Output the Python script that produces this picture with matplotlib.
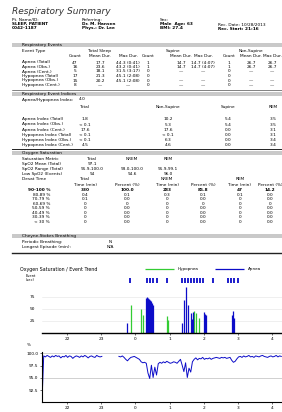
import numpy as np
import matplotlib
matplotlib.use("Agg")
import matplotlib.pyplot as plt
from matplotlib.patches import Rectangle
from matplotlib.lines import Line2D

W, H = 282, 412

# ---- report header ----
title = "Respiratory Summary"
info_cols = [
    ["Pt. Name/ID:", "SLEEP, PATIENT", "0042-1187"],
    ["Referring:", "Dr. M. Hansen", "Phys.: Dr. Lee"],
    ["Sex:", "Male  Age: 63", "BMI: 27.4"],
    ["Rec. Date: 10/28/2013", "Rec. Start: 21:16"],
]

# ---- respiratory events table ----
evt_groups = ["Total Sleep", "Supine", "Non-Supine"]
evt_cols = ["Count", "Mean Dur.", "Max Dur."]
evt_rows = ["Apnea (Total)", "Apnea (Obs.)", "Apnea (Cent.)",
            "Hypopnea (Total)", "Hypopnea (Obs.)", "Hypopnea (Cent.)"]
evt_total = [["47", "17.7", "44.3 (0:41)"],
             ["16", "23.6", "43.2 (0:41)"],
             ["5", "18.1", "31.5 (3:17)"],
             ["17", "21.3", "45.1 (2:08)"],
             ["15", "20.2", "45.1 (2:08)"],
             ["8", "\u2014", "\u2014"]]
evt_supine = [["1", "14.7", "14.7 (4:07)"],
              ["1", "14.7", "14.7 (4:07)"],
              ["0", "\u2014", "\u2014"],
              ["0", "", ""],
              ["0", "\u2014", "\u2014"],
              ["0", "\u2014", "\u2014"]]
evt_nonsup = [["1", "26.7", "26.7"],
              ["1", "26.7", "26.7"],
              ["0", "\u2014", "\u2014"],
              ["0", "", ""],
              ["0", "\u2014", "\u2014"],
              ["0", "\u2014", "\u2014"]]

# ---- event indices ----
ahi_value = "4.0"
idx_cols = ["Total", "Non-Supine", "Supine", "REM"]
idx_rows = ["Apnea Index (Total)", "Apnea Index (Obs.)", "Apnea Index (Cent.)",
            "Hypopnea Index (Total)", "Hypopnea Index (Obs.)", "Hypopnea Index (Cent.)"]
idx_vals = [["1.8", "10.2", "5.4", "3.5"],
            ["< 0.1", "5.3", "5.4", "3.5"],
            ["17.6", "17.6", "0.0", "3.1"],
            ["< 0.1", "< 0.1", "0.0", "3.1"],
            ["< 0.1", "6.3", "0.0", "3.4"],
            ["4.5", "4.6", "0.0", "3.4"]]

# ---- oxygen saturation ----
sat_cols = ["Total", "NREM", "REM"]
sat_rows = ["SpO2 Mean (Total)", "SpO2 Range (Total)", "Low SpO2 (Events)"]
sat_vals = [["97.1", "", ""],
            ["91.9-100.0", "93.0-100.0", "91.9-99.1"],
            ["94", "94.6", "96.0"]]
desat_groups = ["Total", "NREM", "REM"]
desat_sub = ["Time (min)", "Percent (%)"]
desat_bands = ["90-100 %", "80-89 %", "70-79 %", "60-69 %",
               "50-59 %", "40-49 %", "30-39 %", "< 30 %"]
desat_tot_min = ["330", "0.4", "0.1", "0", "0", "0", "0", "0"]
desat_tot_pct = ["100.0", "0.1", "0.0", "0", "0.0", "0.0", "0.0", "0.0"]
desat_nrem_min = ["283", "0.3", "0", "0", "0", "0", "0", "0"]
desat_nrem_pct = ["85.8", "0.1", "0.0", "0", "0.0", "0.0", "0.0", "0.0"]
desat_rem_min = ["47", "0.1", "0", "0", "0", "0", "0", "0"]
desat_rem_pct = ["14.2", "0.0", "0.0", "0", "0.0", "0.0", "0.0", "0.0"]

# ---- cheyne stokes ----
cs_rows = ["Periodic Breathing:", "Longest Episode (min):"]
cs_vals = ["N", "N/A"]

# ---- trend chart (clock hours, continuing past midnight) ----
chart_title = "Oxygen Saturation / Event Trend"
hour_ticks = [22, 23, 24, 25, 26, 27, 28]
hour_labels = ["22", "23", "0", "1", "2", "3", "4"]
t_start, t_end = 21.27, 28.29

hyp_times = [23.873, 24.166, 24.224, 24.927, 24.956, 25.717, 25.775, 25.863]
hyp_durs = [58, 50, 37, 35, 27, 46, 42, 31]
apn_times = [23.756, 24.312, 24.341, 24.371, 24.400, 24.429, 24.458, 24.488, 24.517,
             25.366, 25.424, 25.483, 25.541, 25.629, 25.658, 25.688,
             26.009, 26.039, 26.068, 26.829, 26.858, 26.888]
apn_durs = [21, 73, 75, 72, 70, 69, 66, 62, 58,
            20, 69, 96, 58, 42, 30, 44,
            44, 40, 37, 37, 46, 31]
mark_times = [23.84, 24.34, 24.43, 24.52, 24.63, 24.93, 25.37, 25.46, 25.54,
              25.63, 25.72, 25.81, 25.90, 25.99, 26.28, 26.72, 26.81, 26.90, 26.99]

spo2_step_h = 0.05
spo2 = [90.2,
        99.5, 99.3, 99.6, 99.4, 99.2, 99.5, 99.3, 99.6, 99.4, 99.5, 99.1, 99.4,
        99.3, 99.6, 99.2, 99.5, 99.4, 99.0, 99.3, 99.5, 99.4, 99.2, 99.5, 99.3,
        99.6, 99.4, 99.1, 99.4, 99.5, 99.3, 99.2, 99.6, 99.4, 99.3,
        99.4,
        np.nan, np.nan, np.nan, np.nan, np.nan, np.nan, np.nan, np.nan, np.nan,
        99.4, 99.3, 99.5, 99.2, 98.8, 98.5, 98.9, 99.2, 99.3, 99.4, 99.2, 99.0, 98.8,
        98.3, 98.1, 98.2, 98.0,
        96.0, 94.9, 97.6, 95.1, 97.2, 95.6, 97.9,
        98.2, 98.0, 98.3, 98.1, 98.4, 98.2, 98.0, 98.1, 98.3, 98.2, 98.0, 98.4,
        98.8, 97.6, 96.3, 98.1, 95.1, 97.0, 96.2, 98.3,
        98.8, 99.1, 98.7, 99.0, 98.9, 99.2, 98.8, 99.0, 98.9, 99.1, 98.8, 99.0,
        99.1, 99.2, 99.1, 99.0, 99.2, 99.1, 99.2, 99.0, 99.1, 99.2,
        98.6, 98.2, 98.4, 98.9,
        99.3, 99.4, 99.2, 99.5, 99.3, 99.4, 99.6, 99.3, 99.4, 99.2, 99.5, 99.4,
        99.3, 99.5, 99.6, 99.4, 99.3, 99.2, 99.4, 99.5, 99.3, 99.4, 99.6, 99.3,
        99.5, 99.4]
spo2_ticks = [92.5, 95.0, 97.5, 100.0]

GREEN = "#33cc33"
BLUE = "#0c0cc8"
FS = 3.1

fig = plt.figure(figsize=(W / 100, H / 100), dpi=100)


def fx(x):
    return x / W


def fy(y):
    return 1 - y / H


def txt(x, y, s, size=FS, ha="left", **kw):
    fig.text(fx(x), fy(y), s, fontsize=size, ha=ha, va="center", **kw)


def section(y, label):
    fig.add_artist(Rectangle((fx(12), fy(y + 2)), 1 - fx(12), 4 / H,
                             transform=fig.transFigure, color="#c9c9c9", lw=0))
    txt(22, y, label)


def hline(y, lw=0.6):
    fig.add_artist(Line2D([fx(12), 1], [fy(y), fy(y)], color="#222222", lw=lw))


# header
txt(12, 12, title, size=6.5, style="italic", color="#333333")
for cx, lines in zip([12, 82, 160, 218], info_cols):
    y0 = 20 if cx != 218 else 25
    for k, s in enumerate(lines):
        txt(cx, y0 + 4 * k, s, weight="bold" if k > 0 else "normal")

# respiratory events
section(45, "Respiratory Events")
txt(22, 51, "Event Type")
col_x = [75, 100, 128, 148, 181, 203, 229, 251, 272]
for g, gx in zip(evt_groups, [100, 173, 251]):
    txt(gx, 51, g, ha="center")
for k, cx in enumerate(col_x):
    txt(cx, 56, evt_cols[k % 3], ha="center")
row_y = [62.5, 67, 71.5, 76, 80.5, 85]
for r, ry in enumerate(row_y):
    txt(22, ry, evt_rows[r])
    vals = evt_total[r] + evt_supine[r] + evt_nonsup[r]
    for cx, v in zip(col_x, vals):
        txt(cx, ry, v, ha="center")
hline(90, 0.4)

# indices
section(94, "Respiratory Event Indices")
txt(22, 100, "Apnea/Hypopnea Index:")
txt(82, 99, ahi_value, ha="center")
idx_x = [85, 168, 228, 273]
for c, cx in zip(idx_cols, idx_x):
    txt(cx, 107, c, ha="center")
row_y = [119, 124.5, 130, 135, 140, 145]
for r, ry in enumerate(row_y):
    txt(22, ry, idx_rows[r])
    for cx, v in zip(idx_x, idx_vals[r]):
        txt(cx, ry, v, ha="center")
hline(148.5, 0.7)

# oxygen saturation
section(153, "Oxygen Saturation")
txt(22, 159, "Saturation Metric")
for c, cx in zip(sat_cols, [92, 132, 168]):
    txt(cx, 159, c, ha="center")
for r, ry in enumerate([164, 169, 174]):
    txt(22, ry, sat_rows[r])
    for cx, v in zip([92, 132, 168], sat_vals[r]):
        txt(cx, ry, v, ha="center")
txt(22, 179, "Desat Time")
for g, gx in zip(desat_groups, [85, 167, 240]):
    txt(gx, 179, g, ha="center")
dcol_x = [85, 127, 167, 203, 240, 270]
for k, cx in enumerate(dcol_x):
    txt(cx, 184.5, desat_sub[k % 2], ha="center")
cols = [desat_tot_min, desat_tot_pct, desat_nrem_min, desat_nrem_pct,
        desat_rem_min, desat_rem_pct]
for r, band in enumerate(desat_bands):
    ry = 190 + r * 4.57
    w = "bold" if r == 0 else "normal"
    txt(50, ry, band, ha="right", weight=w)
    for cx, col in zip(dcol_x, cols):
        txt(cx, ry, col[r], ha="center", weight=w)

# cheyne stokes
section(236, "Cheyne-Stokes Breathing")
for r, (lab, v) in enumerate(zip(cs_rows, cs_vals)):
    txt(22, 242 + 5 * r, lab)
    txt(110, 242 + 5 * r, v, ha="center")
hline(253, 1.0)

# ---- trend chart ----
txt(20, 269, chart_title, size=3.4)

ax_mk = fig.add_axes([fx(42), fy(283), 1 - fx(42), 5 / H])
ax_mk.eventplot(mark_times, colors=BLUE, lineoffsets=0.5, linelengths=1,
                linewidths=1.3)
ax_mk.set_xlim(t_start, t_end)
ax_mk.set_ylim(0, 1)
ax_mk.axis("off")

ax_ev = fig.add_axes([fx(42), fy(333), 1 - fx(42), 48 / H])
h1 = ax_ev.vlines(hyp_times, 0, hyp_durs, color=GREEN, lw=0.9, label="Hypopnea")
h2 = ax_ev.vlines(apn_times, 0, apn_durs, color=BLUE, lw=0.9, label="Apnea")
ax_ev.set_xlim(t_start, t_end)
ax_ev.set_ylim(0, 100)
ax_ev.set_yticks([25, 50, 75])
ax_ev.set_xticks(hour_ticks)
ax_ev.set_xticklabels(hour_labels)
ax_ev.tick_params(labelsize=FS, length=1.2, width=0.4, pad=1.5)
ax_ev.tick_params(axis="y", length=0, pad=5)
for s in ["top", "right", "left"]:
    ax_ev.spines[s].set_visible(False)
ax_ev.spines["bottom"].set_linewidth(1.0)
ax_ev.grid(axis="y", color="#e4e4e4", lw=0.4)
ax_ev.set_axisbelow(True)
txt(26, 278, "Event\n(sec)", size=2.6)

fig.legend([h1, h2], ["Hypopnea", "Apnea"], loc="center",
           bbox_to_anchor=(fx(203), fy(269)), ncol=2, fontsize=3,
           handlelength=7, columnspacing=4, frameon=False)

ax_sp = fig.add_axes([fx(42), fy(402), 1 - fx(42), 50 / H])
sp_times = t_start + np.arange(len(spo2)) * spo2_step_h
ax_sp.plot(sp_times, spo2, color=BLUE, lw=0.7)
ax_sp.set_xlim(t_start, t_end)
ax_sp.set_ylim(90.1, 100.3)
ax_sp.set_yticks(spo2_ticks)
ax_sp.set_yticklabels([f"{v:.1f}" for v in spo2_ticks])
ax_sp.set_xticks(hour_ticks)
ax_sp.set_xticklabels(hour_labels)
ax_sp.tick_params(labelsize=FS, length=1.2, width=0.4, pad=1.5)
for v in [95.0, 100.0]:
    ax_sp.axhline(v, color="#bdbdbd", lw=0.5, zorder=0)
for s in ["top", "right"]:
    ax_sp.spines[s].set_visible(False)
ax_sp.spines["left"].set_linewidth(0.8)
ax_sp.spines["bottom"].set_linewidth(0.8)
txt(27, 345, "%", size=3)

fig.savefig("out.png", dpi=100)
